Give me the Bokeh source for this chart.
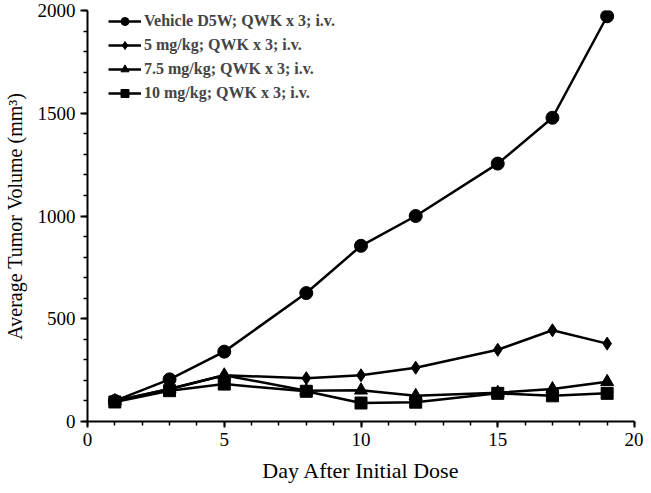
from bokeh.plotting import figure
from bokeh.models import Range1d, Legend
from bokeh.embed import file_html
from bokeh.resources import INLINE

days = [1, 3, 5, 8, 10, 12, 15, 17, 19]
vehicle = [100, 205, 340, 625, 855, 1000, 1255, 1478, 1972]
dose5 = [100, 158, 225, 211, 225, 262, 349, 444, 379]
dose75 = [100, 158, 225, 150, 152, 125, 140, 158, 193]
dose10 = [95, 150, 182, 147, 90, 94, 137, 125, 137]

labels = ["Vehicle D5W; QWK x 3; i.v.", "5 mg/kg; QWK x 3; i.v.",
          "7.5 mg/kg; QWK x 3; i.v.", "10 mg/kg; QWK x 3; i.v."]
markers = ["circle", "diamond", "triangle", "square"]
sizes = [13, 13, 13, 12]
series = [vehicle, dose5, dose75, dose10]

p = figure(width=643, height=485, output_backend="svg", toolbar_location=None,
           x_range=Range1d(0, 20), y_range=Range1d(0, 2000),
           min_border_left=79, min_border_right=9, min_border_top=10, min_border_bottom=60)
p.outline_line_color = None
p.xgrid.visible = False
p.ygrid.visible = False
p.background_fill_color = "white"

items = []
for lab, mk, sz, ys in zip(labels, markers, sizes, series):
    r1 = p.line(days, ys, line_color="black", line_width=2.5)
    r2 = p.scatter(days, ys, marker=mk, size=sz, fill_color="black", line_color="black")
    items.append((lab, [r1, r2]))

legend = Legend(items=items, location=(21, 318), margin=0, padding=0,
                border_line_color=None, background_fill_alpha=0,
                label_text_font="Liberation Serif", label_text_font_style="bold",
                label_text_font_size="16px", glyph_width=33, glyph_height=20,
                label_height=20, spacing=4, label_standoff=3)
p.add_layout(legend)

for ax in (p.xaxis[0], p.yaxis[0]):
    ax.axis_line_width = 2
    ax.major_tick_line_width = 2
    ax.minor_tick_line_width = 1.5
    ax.major_tick_in = 0
    ax.minor_tick_in = 0
    ax.major_label_text_font = "Liberation Serif"
    ax.major_label_text_font_size = "19px"
    ax.axis_label_text_font = "Liberation Serif"
    ax.axis_label_text_font_style = "normal"
    ax.axis_line_color = "black"
    ax.major_label_text_color = "black"
    ax.axis_label_text_color = "black"

p.xaxis[0].ticker.desired_num_ticks = 5
p.xaxis[0].ticker.num_minor_ticks = 5
p.yaxis[0].ticker.num_minor_ticks = 5
p.xaxis.major_tick_out = 6
p.xaxis.minor_tick_out = 4
p.yaxis.major_tick_out = 7
p.yaxis.minor_tick_out = 4
p.xaxis.axis_label = "Day After Initial Dose"
p.yaxis.axis_label = "Average Tumor Volume (mm\u00b3)"
p.xaxis.axis_label_text_font_size = "22px"
p.yaxis.axis_label_text_font_size = "20px"
p.xaxis.axis_label_standoff = 9
p.yaxis.axis_label_standoff = 9
p.yaxis.major_label_orientation = "horizontal"

open("out.html", "w").write(file_html(p, INLINE))
